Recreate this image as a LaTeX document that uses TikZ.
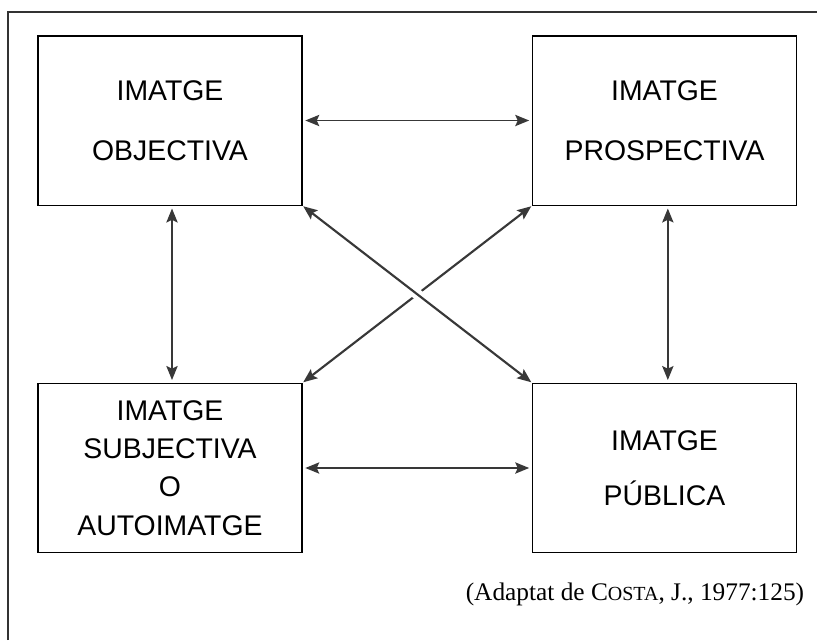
\documentclass[tikz,border=0pt]{standalone}
\usepackage{fontspec}
\setmainfont{Liberation Serif}
\newfontfamily\boxfont{Liberation Sans}
\usetikzlibrary{arrows.meta}
\tikzset{
  imatge/.style={draw, line width=1pt, minimum width=198pt, minimum height=127pt,
    inner sep=0pt, align=center, font=\boxfont\fontsize{21.3}{28.7}\selectfont},
  fletxa/.style={{Stealth[length=10.5pt,width=8.5pt,inset=2pt]}-{Stealth[length=10.5pt,width=8.5pt,inset=2pt]},
    draw=black!78, line width=1.2pt, shorten <=2pt, shorten >=2pt},
  creu/.style={fletxa, line width=1.6pt, shorten <=0.5pt, shorten >=0.5pt},
  marc/.style={draw=black!80, line width=1pt},
}

\begin{document}
\begin{tikzpicture}[x=0.75pt, y=-0.75pt]
    \useasboundingbox (0,0) rectangle (817,640);

    % marc exterior
    \draw[marc] (8,640) |- (817,12);

    % les quatre imatges
    \node[imatge] (obj) at (170,120.5) {IMATGE \\[16pt] OBJECTIVA};
    \node[imatge] (pros) at (664.5,120.5) {IMATGE \\[16pt] PROSPECTIVA};
    \node[imatge] (subj) at (170,468) {IMATGE \\ SUBJECTIVA \\ O \\ AUTOIMATGE};
    \node[imatge] (pub) at (664.5,468) {IMATGE \\[12.5pt] PÚBLICA};

    % fletxes
    \draw[fletxa] (obj) -- (pros);
    \draw[fletxa] (subj) -- (pub);
    \draw[fletxa] ([xshift=1.5pt]obj.south) -- ([xshift=1.5pt]subj.north);
    \draw[fletxa] ([xshift=2.5pt]pros.south) -- ([xshift=2.5pt]pub.north);
    \draw[creu] (subj.north east) -- (pros.south west);
    \draw[creu, preaction={draw=white, line width=8pt, -, shorten <=40pt, shorten >=40pt}]
      (obj.south east) -- (pub.north west);

    % font
    \node (cita) at (635,594) {\fontsize{19}{22}\selectfont (Adaptat de C{\fontsize{15}{18}\selectfont OSTA}, J., 1977:125)};
\end{tikzpicture}
\end{document}
